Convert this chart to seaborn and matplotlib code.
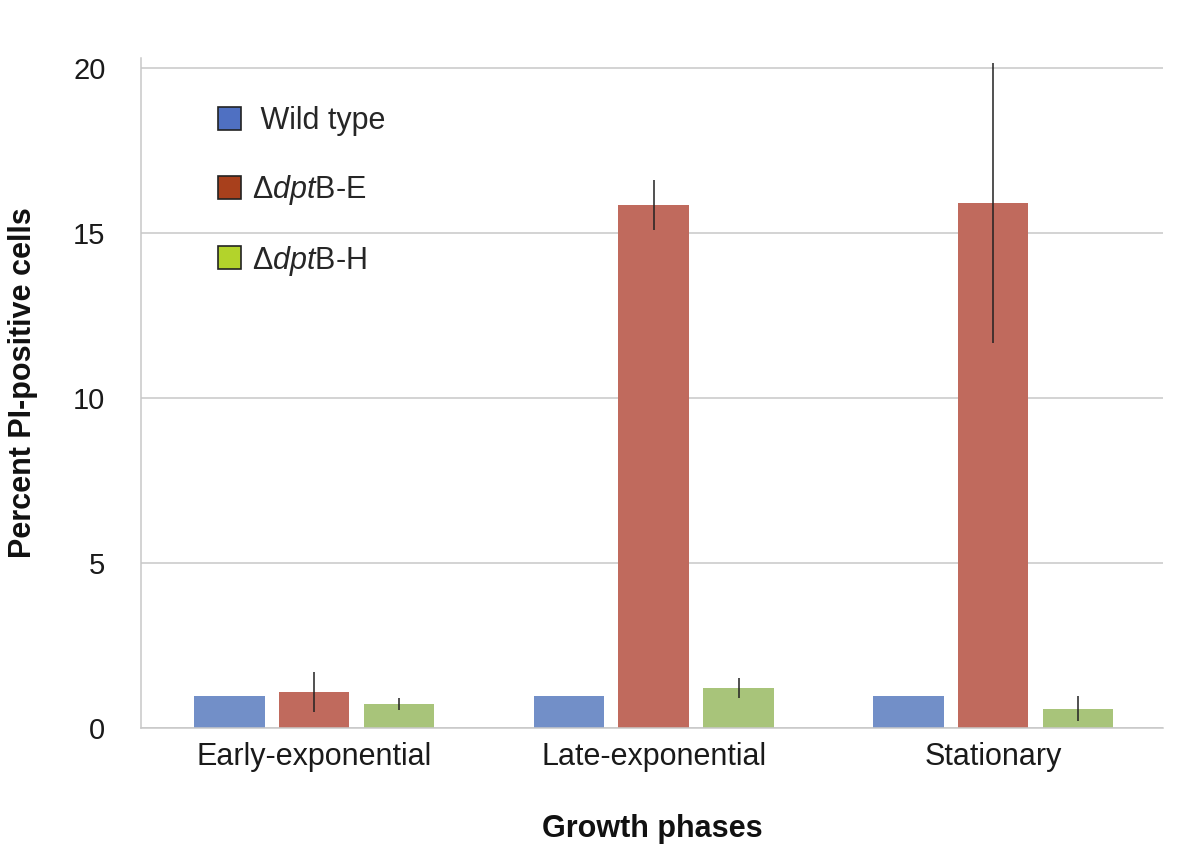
import numpy as np
import pandas as pd
import matplotlib
matplotlib.use("Agg")
import matplotlib.pyplot as plt
from matplotlib.patches import Patch
import seaborn as sns

# Growth phases (x categories) and strains (hue levels)
phases = ["Early-exponential", "Late-exponential", "Stationary"]
strains = ["Wild type", "ΔdptB-E", "ΔdptB-H"]
legend_labels = [" Wild type", r"Δ$\mathit{dpt}$B-E", r"Δ$\mathit{dpt}$B-H"]

# Percent PI-positive cells per strain, one value per phase
wild_type = [0.97, 0.97, 0.97]
dpt_be = [1.09, 15.85, 15.9]
dpt_bh = [0.73, 1.21, 0.58]

# Error bar half-lengths
err_wild_type = [0.0, 0.0, 0.0]
err_dpt_be = [0.6, 0.75, 4.25]
err_dpt_bh = [0.17, 0.3, 0.38]

y_ticks = [0, 5, 10, 15, 20]

bar_colors = ["#728FC8", "#C06A5D", "#A8C47A"]
legend_colors = ["#4F70C2", "#A8401C", "#B3D32B"]

sns.set_style("white")
plt.rcParams["font.family"] = ["Liberation Sans", "DejaVu Sans"]
plt.rcParams["mathtext.fontset"] = "custom"
plt.rcParams["mathtext.rm"] = "Liberation Sans"
plt.rcParams["mathtext.it"] = "Liberation Sans:italic"

values = [wild_type, dpt_be, dpt_bh]
errors = [err_wild_type, err_dpt_be, err_dpt_bh]
df = pd.DataFrame({
    "phase": np.repeat([phases], len(strains), axis=0).ravel(),
    "strain": np.repeat(strains, len(phases)),
    "value": np.concatenate(values),
})

fig = plt.figure(figsize=(11.98, 8.48), dpi=100)
ax = fig.add_axes([141 / 1198, 1 - 728 / 848, 1022 / 1198, 670 / 848])

sns.barplot(data=df, x="phase", y="value", hue="strain", order=phases,
            hue_order=strains, palette=bar_colors, width=0.75, gap=0.17,
            errorbar=None, linewidth=0, saturation=1, legend=False, ax=ax)

# Error bars centred on each drawn bar
for container, errs in zip(ax.containers, errors):
    for bar, e in zip(container, errs):
        if e <= 0:
            continue
        xc = bar.get_x() + bar.get_width() / 2
        ax.errorbar(xc, bar.get_height(), yerr=e, fmt="none",
                    ecolor="#222222", elinewidth=1.1, capsize=0, zorder=3)

ax.set_ylim(0, 20.3)
ax.set_xlim(-0.51, 2.5)
ax.set_yticks(y_ticks)
ax.set_yticklabels([str(t) for t in y_ticks])
ax.yaxis.grid(True, color="#c8c8c8", linewidth=1.1)
ax.set_axisbelow(True)

for side in ["top", "right"]:
    ax.spines[side].set_visible(False)
ax.spines["left"].set_color("#c8c8c8")
ax.spines["left"].set_linewidth(1.1)
ax.spines["bottom"].set_color("#c8c8c8")
ax.spines["bottom"].set_linewidth(1.1)

ax.tick_params(axis="y", length=3.6, width=1.1, color="#c8c8c8", pad=22,
               labelsize=21, labelcolor="#1a1a1a")
ax.tick_params(axis="x", length=0, pad=10, labelsize=22, labelcolor="#1a1a1a")

ax.set_xlabel("Growth phases", fontsize=22, fontweight="bold", color="#111111")
ax.set_ylabel("Percent PI-positive cells", fontsize=22, fontweight="bold",
              color="#111111")
ax.xaxis.set_label_coords(0.5, -0.128)
ax.yaxis.set_label_coords(-0.101, 0.516)

handles = [Patch(facecolor=c, edgecolor="#222222", linewidth=1.2)
           for c in legend_colors]
ax.legend(handles, legend_labels, loc="upper left",
          bbox_to_anchor=(0.075, 0.928), frameon=False, fontsize=22,
          handlelength=0.78, handleheight=0.78, handletextpad=0.35,
          labelspacing=1.2, borderpad=0, borderaxespad=0)

fig.savefig("out.png", dpi=100)
